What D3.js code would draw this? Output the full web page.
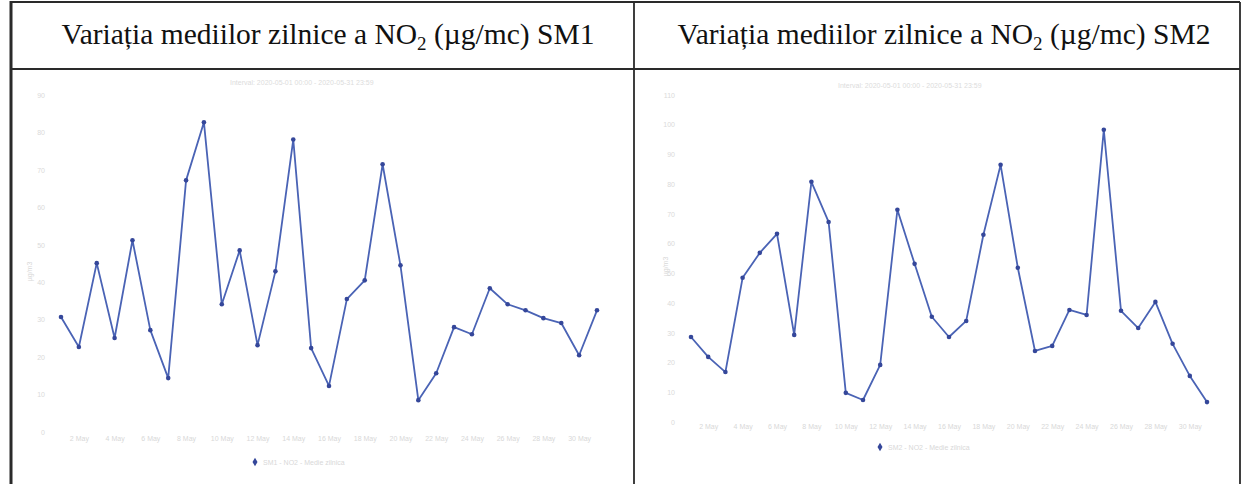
<!DOCTYPE html>
<html>
<head>
<meta charset="utf-8">
<script src="https://cdn.jsdelivr.net/npm/d3@7"></script>
<style>
  body { margin: 0; background: #fff; }
  svg { display: block; }
</style>
</head>
<body>
<svg id="chart" width="1243" height="484"></svg>
<script>
// daily means, 1..31 May
var days = d3.range(1, 32);
var sm1Values = [30.7, 22.7, 45.1, 25.1, 51.2, 27.2, 14.4, 67.2, 82.7, 34.1,
                 48.5, 23.2, 42.9, 78.1, 22.4, 12.3, 35.5, 40.5, 71.5, 44.5,
                 8.5, 15.7, 28.0, 26.1, 38.4, 34.1, 32.5, 30.4, 29.1, 20.5, 32.5];
var sm2Values = [28.6, 21.9, 16.8, 48.5, 56.9, 63.3, 29.3, 80.8, 67.3, 9.8,
                 7.4, 19.2, 71.4, 53.2, 35.4, 28.6, 34.0, 63.0, 86.5, 51.9,
                 23.9, 25.6, 37.7, 36.0, 98.3, 37.4, 31.6, 40.4, 26.3, 15.5, 6.7];
var sm1Ticks = [0, 10, 20, 30, 40, 50, 60, 70, 80, 90];
var sm2Ticks = [0, 10, 20, 30, 40, 50, 60, 70, 80, 90, 100, 110];
var xTickDays = [2, 4, 6, 8, 10, 12, 14, 16, 18, 20, 22, 24, 26, 28, 30];
var titles = ["Variația mediilor zilnice a NO", "Variația mediilor zilnice a NO"];
var stations = ["SM1", "SM2"];

var svg = d3.select("#chart");

// table frame
var frame = svg.append("g").attr("stroke", "#2a2a2a").attr("fill", "none");
frame.append("line").attr("x1", 11).attr("x2", 11).attr("y1", 1).attr("y2", 484).attr("stroke-width", 3);
frame.append("line").attr("x1", 11).attr("x2", 1240).attr("y1", 2).attr("y2", 2).attr("stroke-width", 1.8);
frame.append("line").attr("x1", 11).attr("x2", 1240).attr("y1", 69).attr("y2", 69).attr("stroke-width", 1.8);
frame.append("line").attr("x1", 634).attr("x2", 634).attr("y1", 2).attr("y2", 484).attr("stroke-width", 1.8);
frame.append("line").attr("x1", 1240).attr("x2", 1240).attr("y1", 2).attr("y2", 484).attr("stroke-width", 1.8);

var panels = [
  {cx: 328, x0: 61, x1: 597, yTop: 95, yBot: 432, max: 90, ticks: sm1Ticks, vals: sm1Values,
   xLab: 440, legY: 462, legX: 255, sub: 230, subY: 85, yTitleX: 32},
  {cx: 944, x0: 691, x1: 1207, yTop: 95, yBot: 422, max: 110, ticks: sm2Ticks, vals: sm2Values,
   xLab: 428, legY: 447, legX: 880, sub: 838, subY: 88, yTitleX: 668}
];

panels.forEach(function(p, i) {
  // title
  var t = svg.append("text")
      .attr("x", p.cx).attr("y", 44)
      .attr("text-anchor", "middle")
      .attr("font-family", "Liberation Serif, Times New Roman, serif")
      .attr("font-size", 29.5).attr("fill", "#111");
  t.append("tspan").text(titles[i]);
  t.append("tspan").attr("font-size", 19).attr("dy", 6).text("2");
  t.append("tspan").attr("dy", -6).text(" (µg/mc) " + stations[i]);

  var x = d3.scaleLinear().domain([1, 31]).range([p.x0, p.x1]);
  var y = d3.scaleLinear().domain([0, p.max]).range([p.yBot, p.yTop]);

  var g = svg.append("g");

  // faint subtitle
  g.append("text")
      .attr("x", p.sub).attr("y", p.subY)
      .attr("font-family", "Liberation Sans, Arial, sans-serif")
      .attr("font-size", 7).attr("fill", "#dcdcdc")
      .text("Interval: 2020-05-01 00:00 - 2020-05-31 23:59");

  // y axis
  var ya = g.append("g")
      .attr("transform", "translate(" + (p.x0 - 12) + ",0)")
      .call(d3.axisLeft(y).tickValues(p.ticks).tickSize(0).tickPadding(4));
  ya.select(".domain").remove();
  ya.selectAll("text").attr("fill", "#dadada").attr("font-size", 7)
      .attr("font-family", "Liberation Sans, Arial, sans-serif");

  g.append("text")
      .attr("transform", "translate(" + p.yTitleX + "," + ((p.yTop + p.yBot) / 2 + 8) + ") rotate(-90)")
      .attr("text-anchor", "middle")
      .attr("font-family", "Liberation Sans, Arial, sans-serif")
      .attr("font-size", 7).attr("fill", "#d8d8d8")
      .text("µg/m3");

  // x axis
  var xa = g.append("g")
      .attr("transform", "translate(0," + (p.xLab - 10) + ")")
      .call(d3.axisBottom(x).tickValues(xTickDays).tickSize(0).tickPadding(6)
        .tickFormat(function(d) { return d + " May"; }));
  xa.select(".domain").remove();
  xa.selectAll("text").attr("fill", "#d8d8d8").attr("font-size", 7)
      .attr("font-family", "Liberation Sans, Arial, sans-serif");

  // line + points
  var line = d3.line()
      .x(function(d, k) { return x(days[k]); })
      .y(function(d) { return y(d); });
  g.append("path")
      .datum(p.vals)
      .attr("d", line)
      .attr("fill", "none")
      .attr("stroke", "#4a63b5")
      .attr("stroke-width", 1.8)
      .attr("stroke-linejoin", "round");
  g.selectAll("circle")
      .data(p.vals)
    .enter().append("circle")
      .attr("cx", function(d, k) { return x(days[k]); })
      .attr("cy", function(d) { return y(d); })
      .attr("r", 2.3)
      .attr("fill", "#35479a");

  // legend
  g.append("path")
      .attr("d", d3.symbol().type(d3.symbolDiamond).size(22)())
      .attr("transform", "translate(" + p.legX + "," + p.legY + ")")
      .attr("fill", "#35479a");
  g.append("text")
      .attr("x", p.legX + 8).attr("y", p.legY + 2.5)
      .attr("font-family", "Liberation Sans, Arial, sans-serif")
      .attr("font-size", 7).attr("fill", "#d8d8d8")
      .text(stations[i] + " - NO2 - Medie zilnica");
});
</script>
</body>
</html>
